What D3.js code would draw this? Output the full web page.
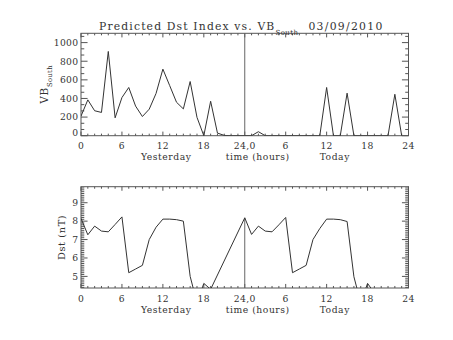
<!DOCTYPE html>
<html><head><meta charset="utf-8">
<script src="https://cdn.jsdelivr.net/npm/d3@7"></script>
<style>
body{margin:0;background:#fff;}
text{font-family:"DejaVu Serif",serif;fill:#333;}
</style></head>
<body><svg id="c" width="453" height="340"></svg>
<script>
// ---- data ----
const vbHours = d3.range(0, 48);
const vbValues = [210,385,268,250,905,192,410,518,318,206,285,454,715,538,359,288,582,197,0,370,
                  28,3,0,0,0,0,43,0,0,0,0,0,0,0,0,0,518,0,0,457,0,0,0,0,0,0,445,0];
const dstHours = [0,1,2,3,4,5,6,7,8,9,10,11,12,13,14,15,16,17,18,19,
                  24,25,26,27,28,29,30,31,32,33,34,35,36,37,38,39,40,41,42,43];
const dstValues = [8.15,7.26,7.73,7.46,7.42,7.82,8.23,5.2,5.4,5.6,7.0,7.67,8.11,8.11,8.08,8.0,5.0,3.56,4.62,4.3,
                   8.18,7.28,7.73,7.46,7.42,7.8,8.2,5.2,5.4,5.6,7.0,7.6,8.11,8.11,8.08,7.98,4.98,3.56,4.62,4.1];
const xTickValues = [0,6,12,18,24,30,36,42,48];
const xTickLabels = ["0","6","12","18","24,0","6","12","18","24"];
const vbTickValues = [0,200,400,600,800,1000];
const dstTickValues = [5,6,7,8,9];
const titleMain = "Predicted Dst Index vs. VB";
const titleSub = "South";
const titleDate = "03/09/2010";

const svg = d3.select("#c");
const L = 81, R = 408.5;
const x = d3.scaleLinear().domain([0,48]).range([L,R]);
const FS = 9.2, LS = 0.35;

function panel(top, bottom, y, majorY, minorY, yLabelFn, opts){
  const g = svg.append("g");
  const clipId = "clip"+Math.round(top);
  svg.append("clipPath").attr("id",clipId).append("rect")
     .attr("x",L).attr("y",top).attr("width",R-L).attr("height",bottom-top);
  g.append("rect").attr("x",L).attr("y",top).attr("width",R-L).attr("height",bottom-top)
   .attr("fill","none").attr("stroke","#555").attr("stroke-width",1);
  const xMinor = d3.range(0,49);
  const xt = (bottom-top)*0.02;
  g.selectAll(null).data(xMinor).join("line")
    .attr("x1",d=>x(d)).attr("x2",d=>x(d))
    .attr("y1",bottom).attr("y2",d=>bottom-(d%6===0?xt*2:xt))
    .attr("stroke","#555");
  g.selectAll(null).data(xMinor).join("line")
    .attr("x1",d=>x(d)).attr("x2",d=>x(d))
    .attr("y1",top).attr("y2",d=>top+(d%6===0?xt*2:xt))
    .attr("stroke","#555");
  const yt = (R-L)*0.02;
  const isMajor = v => majorY.some(m=>Math.abs(m-v)<1e-6);
  [[L,1],[R,-1]].forEach(([x0,dir])=>{
    g.selectAll(null).data(minorY).join("line")
      .attr("x1",x0).attr("x2",d=>x0+dir*(isMajor(d)?yt:yt/2))
      .attr("y1",d=>y(d)).attr("y2",d=>y(d)).attr("stroke","#555");
  });
  g.selectAll(null).data(majorY).join("text")
    .attr("x",78.5).attr("y",(d,i)=>y(d)+(opts.zeroShift&&i===0?-3:0))
    .attr("dy","0.36em").attr("text-anchor","end").attr("font-size",FS)
    .attr("letter-spacing",LS).text(d=>d);
  g.selectAll(null).data(xTickValues).join("text")
    .attr("x",d=>x(d)).attr("y",bottom+13.5).attr("text-anchor","middle")
    .attr("font-size",FS).attr("letter-spacing",LS).text((d,i)=>xTickLabels[i]);
  const cx = (L+R)/2;
  [["Yesterday",-78.5],["time (hours)",13],["Today",90]].forEach(([s,dx])=>{
    g.append("text").attr("x",cx+dx).attr("y",bottom+24.5).attr("text-anchor","middle")
     .attr("font-size",FS).attr("letter-spacing",0.55).text(s);
  });
  yLabelFn(g, (top+bottom)/2);
  return {g, clipId};
}

// ---- top panel ----
const yVB = d3.scaleLinear().domain([0,1100]).range([135.7,33.3]);
const vbMinor = d3.range(0,1100,200/3);
const p1 = panel(33.3,135.7,yVB,vbTickValues,vbMinor,(g,cy)=>{
  const t = g.append("text").attr("transform",`translate(47.5,${cy}) rotate(-90)`)
    .attr("text-anchor","middle").attr("font-size",10.5).attr("letter-spacing",0.8);
  t.append("tspan").text("VB");
  t.append("tspan").attr("dy",4).attr("font-size",6.8).attr("letter-spacing",0.3).text("South");
},{zeroShift:true});
p1.g.append("line").attr("x1",x(24)).attr("x2",x(24)).attr("y1",yVB(1100)).attr("y2",yVB(0))
  .attr("stroke","#666");
p1.g.append("path").attr("clip-path",`url(#${p1.clipId})`)
  .attr("d",d3.line().x((d,i)=>x(vbHours[i])).y(d=>yVB(d))(vbValues))
  .attr("fill","none").attr("stroke","#333").attr("stroke-width",1);

// ---- bottom panel ----
const yDst = d3.scaleLinear().domain([4.37,9.87]).range([288,186.7]);
const dstMinor = d3.range(44,99).map(v=>v/10);
const p2 = panel(186.7,288,yDst,dstTickValues,dstMinor,(g,cy)=>{
  g.append("text").attr("transform",`translate(65,${cy}) rotate(-90)`)
    .attr("text-anchor","middle").attr("font-size",9.8).attr("letter-spacing",0.6).text("Dst (nT)");
},{});
const i24 = dstHours.indexOf(24);
p2.g.append("line").attr("x1",x(24)).attr("x2",x(24)).attr("y1",yDst(dstValues[i24])).attr("y2",yDst(4.37))
  .attr("stroke","#666");
p2.g.append("path").attr("clip-path",`url(#${p2.clipId})`)
  .attr("d",d3.line().x((d,i)=>x(dstHours[i])).y(d=>yDst(d))(dstValues))
  .attr("fill","none").attr("stroke","#333").attr("stroke-width",1);

// ---- title ----
const tt = svg.append("text").attr("x",99).attr("y",29.5).attr("font-size",10.8).attr("letter-spacing",1.15);
tt.append("tspan").text(titleMain);
tt.append("tspan").attr("dy",5).attr("font-size",7).attr("letter-spacing",0.4).text(titleSub);
svg.append("text").attr("x",346).attr("y",29.5).attr("text-anchor","middle").attr("font-size",10.8)
  .attr("letter-spacing",1.3).text(titleDate);
</script></body></html>
